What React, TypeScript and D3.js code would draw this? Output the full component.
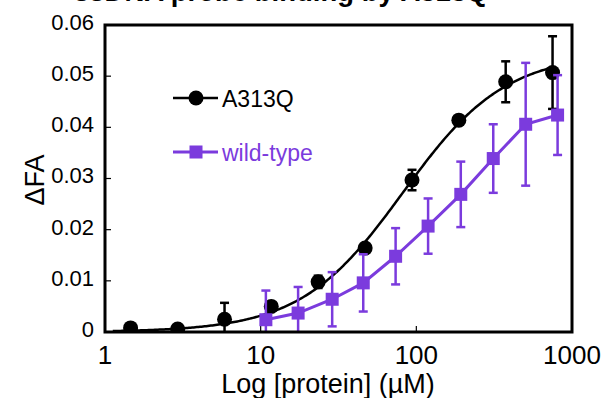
import React, { useEffect, useRef } from 'react';
import * as d3 from 'd3';

// A313Q measurements
const mutConc = [1.46, 2.93, 5.86, 11.7, 23.4, 46.9, 93.8, 187.5, 375, 750];
const mutFA = [0.0008, 0.0006, 0.0025, 0.005, 0.0098, 0.0164, 0.0297, 0.0414, 0.0489, 0.0507];
const mutErr = [0.0003, 0.0002, 0.0032, 0.0008, 0.0012, 0.0008, 0.002, 0.0006, 0.004, 0.0071];

// wild-type measurements
const wtConc = [10.8, 17.4, 28.8, 45.6, 73.6, 119, 193, 312, 504, 808];
const wtFA = [0.0024, 0.0037, 0.0064, 0.0096, 0.0148, 0.0207, 0.0269, 0.0339, 0.0406, 0.0424];
const wtErr = [0.0057, 0.0051, 0.0053, 0.0056, 0.0055, 0.0054, 0.0064, 0.0067, 0.012, 0.0078];

// Hill fit for A313Q
const fitBmax = 0.0545;
const fitKd = 82;
const fitN = 1.32;

const yTicks = [0, 0.01, 0.02, 0.03, 0.04, 0.05, 0.06];
const xTicks = [1, 10, 100, 1000];

const PURPLE = '#7b3bdd';
const FONT = '"Liberation Sans", Arial, sans-serif';

export default function App() {
  const ref = useRef<SVGSVGElement>(null);

  useEffect(() => {
    const svg = d3.select(ref.current);
    svg.selectAll('*').remove();

    const left = 105, right = 572, top = 25, bottom = 332;
    const x = d3.scaleLog().domain([1, 1000]).range([left, right]);
    const y = d3.scaleLinear().domain([0, 0.06]).range([bottom, top]);

    // title, mostly cut off at the top of the figure
    svg.append('text')
      .attr('x', 74).attr('y', 0.5)
      .style('font-family', FONT).style('font-size', '27.5px').style('font-weight', 'bold')
      .text('ssDNA probe binding by A313Q');

    svg.append('clipPath').attr('id', 'plotclip')
      .append('rect').attr('x', left).attr('y', top - 20).attr('width', right - left + 20).attr('height', bottom - top + 20);

    const g = svg.append('g');

    // y ticks + labels
    yTicks.forEach(t => {
      if (t > 0 && t < 0.06) {
        g.append('line').attr('x1', left).attr('x2', left + 6).attr('y1', y(t)).attr('y2', y(t))
          .attr('stroke', '#000').attr('stroke-width', 1.2);
      }
      g.append('text')
        .attr('x', left - 11).attr('y', y(t) - 3).attr('dy', '0.36em')
        .attr('text-anchor', 'end')
        .style('font-family', FONT).style('font-size', '22px')
        .text(t === 0 ? '0' : d3.format('.2f')(t));
    });

    // x ticks + labels
    xTicks.forEach(t => {
      if (t > 1 && t < 1000) {
        g.append('line').attr('x1', x(t)).attr('x2', x(t)).attr('y1', bottom).attr('y2', bottom - 6)
          .attr('stroke', '#000').attr('stroke-width', 1.2);
      }
      g.append('text')
        .attr('x', x(t)).attr('y', 364)
        .attr('text-anchor', 'middle')
        .style('font-family', FONT).style('font-size', '26px')
        .text(String(t));
    });

    g.append('text')
      .attr('x', 328).attr('y', 393)
      .attr('text-anchor', 'middle')
      .style('font-family', FONT).style('font-size', '27px')
      .text('Log [protein] (µM)');

    g.append('text')
      .attr('transform', `translate(44,180) rotate(-90)`)
      .attr('text-anchor', 'middle')
      .style('font-family', FONT).style('font-size', '27px')
      .text('ΔFA');

    const plot = g.append('g').attr('clip-path', 'url(#plotclip)');

    // A313Q fit curve
    const fitX = d3.range(0.05, 2.876, 0.01).map(l => Math.pow(10, l));
    const hill = (c: number) => fitBmax * Math.pow(c / fitKd, fitN) / (1 + Math.pow(c / fitKd, fitN));
    const line = d3.line<number>().x(c => x(c)).y(c => y(hill(c)));
    plot.append('path').datum(fitX).attr('d', line).attr('fill', 'none')
      .attr('stroke', '#000').attr('stroke-width', 2.5);

    const errBars = (conc: number[], vals: number[], errs: number[], color: string, w: number) => {
      conc.forEach((c, i) => {
        const cx = x(c);
        const y1 = y(vals[i] + errs[i]);
        const y0 = y(vals[i] - errs[i]);
        plot.append('line').attr('x1', cx).attr('x2', cx).attr('y1', y1).attr('y2', y0)
          .attr('stroke', color).attr('stroke-width', w);
        [y1, y0].forEach(yy => plot.append('line')
          .attr('x1', cx - 4.5).attr('x2', cx + 4.5).attr('y1', yy).attr('y2', yy)
          .attr('stroke', color).attr('stroke-width', 2.5));
      });
    };

    // A313Q error bars + dots
    errBars(mutConc, mutFA, mutErr, '#000', 2.5);
    plot.selectAll('circle.mut').data(mutConc).join('circle')
      .attr('cx', c => x(c)).attr('cy', (_, i) => y(mutFA[i])).attr('r', 7.5).attr('fill', '#000');

    // wild-type line, error bars, squares
    const wtLine = d3.line<number>().x(c => x(c)).y((_, i) => y(wtFA[i]));
    plot.append('path').datum(wtConc).attr('d', wtLine).attr('fill', 'none')
      .attr('stroke', PURPLE).attr('stroke-width', 3);
    errBars(wtConc, wtFA, wtErr, PURPLE, 2.5);
    plot.selectAll('rect.wt').data(wtConc).join('rect')
      .attr('x', c => x(c) - 6.5).attr('y', (_, i) => y(wtFA[i]) - 6.5)
      .attr('width', 13).attr('height', 13).attr('fill', PURPLE);

    // frame
    g.append('rect').attr('x', left).attr('y', top).attr('width', right - left).attr('height', bottom - top)
      .attr('fill', 'none').attr('stroke', '#000').attr('stroke-width', 3);

    // legend
    const leg = g.append('g');
    leg.append('line').attr('x1', 173).attr('x2', 218).attr('y1', 98).attr('y2', 98)
      .attr('stroke', '#000').attr('stroke-width', 2.5);
    leg.append('circle').attr('cx', 196).attr('cy', 98).attr('r', 7.5).attr('fill', '#000');
    leg.append('text').attr('x', 222).attr('y', 107)
      .style('font-family', FONT).style('font-size', '23px').text('A313Q');

    leg.append('line').attr('x1', 173).attr('x2', 218).attr('y1', 152).attr('y2', 152)
      .attr('stroke', PURPLE).attr('stroke-width', 3);
    leg.append('rect').attr('x', 189.5).attr('y', 145.5).attr('width', 13).attr('height', 13).attr('fill', PURPLE);
    leg.append('text').attr('x', 222).attr('y', 161)
      .attr('fill', PURPLE)
      .style('font-family', FONT).style('font-size', '23px').text('wild-type');
  }, []);

  return (
    <svg ref={ref} width={611} height={398}
      style={{ position: 'absolute', left: 0, top: 0, background: '#fff' }} />
  );
}
